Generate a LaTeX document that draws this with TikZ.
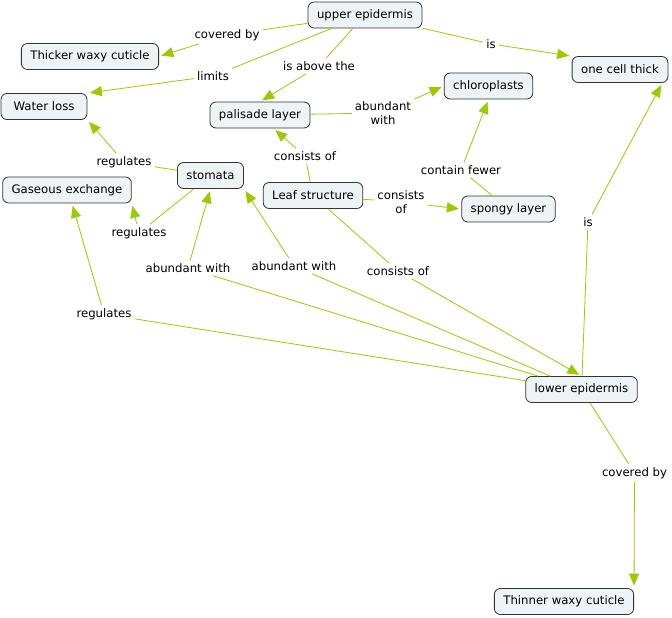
\documentclass[tikz,border=0pt]{standalone}
\usepackage{fontspec}
\setmainfont{DejaVu Sans}
\usetikzlibrary{arrows.meta}
\definecolor{linkgreen}{RGB}{153,204,0}
\definecolor{conceptfill}{RGB}{238,243,245}
\tikzset{
  concept/.style={draw=black!80, line width=0.8pt, fill=conceptfill, rounded corners=6pt,
    inner xsep=9pt, minimum height=26pt, font=\fontsize{11.7}{14}\selectfont},
  linkword/.style={inner sep=3pt, align=center, font=\fontsize{11.7}{14}\selectfont},
  rel/.style={draw=linkgreen, line width=0.8pt},
  relto/.style={rel, -{Triangle[length=12pt,width=10pt]}, shorten >=2.5pt},
}
\begin{document}
\begin{tikzpicture}[x=1pt,y=-1pt]
  \useasboundingbox (0,0) rectangle (672,618);

  % concepts
  \node[concept] (upper) at (365,15) {upper epidermis};
  \node[concept] (thicker) at (90,56.5) {Thicker waxy cuticle};
  \node[concept, minimum width=86pt] (water) at (44,106.5) {Water loss};
  \node[concept] (palisade) at (260,115) {palisade layer};
  \node[concept] (stomata) at (210.5,175.5) {stomata};
  \node[concept] (gas) at (67,190) {Gaseous exchange};
  \node[concept] (leaf) at (313,195.5) {Leaf structure};
  \node[concept] (chloro) at (488.5,86) {chloroplasts};
  \node[concept] (onecell) at (620,69.5) {one cell thick};
  \node[concept] (spongy) at (508.5,209) {spongy layer};
  \node[concept] (lower) at (581.5,389.5) {lower epidermis};
  \node[concept] (thinner) at (564,601.5) {Thinner waxy cuticle};

  % linking phrases
  \node[linkword] (covup) at (227,35) {covered by};
  \node[linkword] (limits) at (213,76) {limits};
  \node[linkword] (above) at (319,66) {is above the};
  \node[linkword] (isup) at (491,44) {is};
  \node[linkword] (abchl) at (383,113) {abundant\\with};
  \node[linkword] (conpal) at (305,156) {consists of};
  \node[linkword] (fewer) at (461,170) {contain fewer};
  \node[linkword] (conspo) at (401,202) {consists\\of};
  \node[linkword] (regwat) at (124,162) {regulates};
  \node[linkword] (reggas) at (139,233) {regulates};
  \node[linkword] (abst1) at (188,268) {abundant with};
  \node[linkword] (abst2) at (294,266) {abundant with};
  \node[linkword] (conlow) at (398,271) {consists of};
  \node[linkword] (reglow) at (104,314) {regulates};
  \node[linkword] (isdown) at (588,222) {is};
  \node[linkword] (covdown) at (634.5,473) {covered by};

  % connectors
  \draw[rel] (upper) -- (covup);
  \draw[relto] (covup) -- (thicker.east);
  \draw[rel] (upper) -- (limits);
  \draw[relto] (limits) -- (water.north east);
  \draw[rel] (upper) -- (above);
  \draw[relto] (above) -- (palisade.north);
  \draw[rel] (upper) -- (isup);
  \draw[relto] (isup) -- (onecell.north west);
  \draw[rel] (palisade) -- (abchl);
  \draw[relto] (abchl) -- (chloro.west);
  \draw[rel] (leaf) -- (conpal);
  \draw[relto] (conpal) -- (palisade.-45);
  \draw[rel] (leaf) -- (conspo);
  \draw[relto] (conspo) -- (spongy.west);
  \draw[rel] (spongy) -- (fewer);
  \draw[relto] (fewer) -- (chloro.south);
  \draw[rel] (stomata) -- (regwat);
  \draw[relto] (regwat) -- (water.south east);
  \draw[rel] (stomata) -- (reggas);
  \draw[relto] (reggas) -- (gas.south east);
  \draw[rel] (lower) -- (abst1);
  \draw[relto] (abst1) -- (stomata.south);
  \draw[rel] (lower) -- (abst2);
  \draw[relto] (abst2) -- (stomata.south east);
  \draw[rel] (leaf) -- (conlow);
  \draw[relto] (conlow) -- (lower.north);
  \draw[rel] (lower) -- (reglow);
  \draw[relto] (reglow) -- ([xshift=5pt]gas.south);
  \draw[rel] (lower) -- (isdown);
  \draw[relto] (isdown) -- ([xshift=-6pt]onecell.south east);
  \draw[rel] (lower) -- (covdown);
  \draw[relto] (covdown) -- (thinner.north east);
\end{tikzpicture}
\end{document}
